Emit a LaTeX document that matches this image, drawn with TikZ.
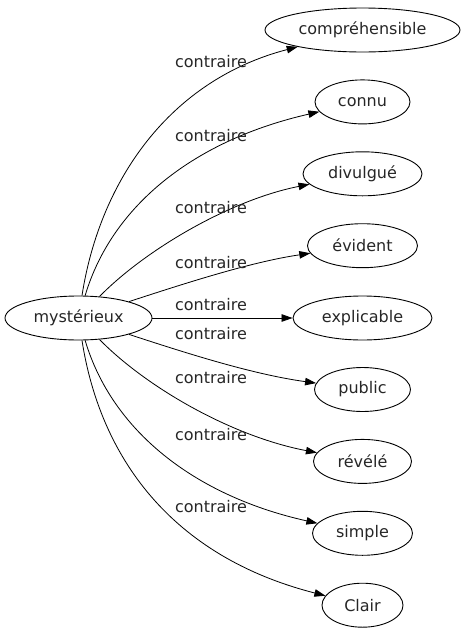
\documentclass[tikz,border=0pt]{standalone}
\usepackage{fontspec}
\setmainfont{DejaVu Sans}
\usetikzlibrary{shapes.geometric,arrows.meta}
\begin{document}
\begin{tikzpicture}[x=1pt,y=-1pt,
  term/.style={ellipse,draw,line width=0.9pt,inner sep=0pt,minimum height=44pt,text=black!85,font=\fontsize{16}{19}\selectfont},
  lbl/.style={text=black!85,font=\fontsize{16}{19}\selectfont,inner sep=0pt},
  rel/.style={draw,line width=0.8pt,-{Triangle[length=11pt,width=7.5pt]}}]
\useasboundingbox (0,0) rectangle (465,635);
\node[term,minimum width=147pt] (m) at (78.5,318) {mystérieux};
\node[term,minimum width=195pt] (n1) at (362.5,30) {compréhensible};
\node[term,minimum width=95pt]  (n2) at (362.5,101.9) {connu};
\node[term,minimum width=119pt] (n3) at (362.5,173.8) {divulgué};
\node[term,minimum width=110pt] (n4) at (362.5,245.7) {évident};
\node[term,minimum width=139pt] (n5) at (362.5,318) {explicable};
\node[term,minimum width=96pt]  (n6) at (362.5,389.5) {public};
\node[term,minimum width=98pt]  (n7) at (362.5,461.4) {révélé};
\node[term,minimum width=100pt] (n8) at (362.5,533.3) {simple};
\node[term,minimum width=81pt]  (n9) at (362.5,605.2) {Clair};
\draw[rel] (m) .. controls (100,180) and (170,80) .. (n1);
\draw[rel] (m) .. controls (112,205) and (195,140) .. (n2);
\draw[rel] (m) .. controls (145,250) and (230,200) .. (n3);
\draw[rel] (m) .. controls (180,285) and (250,262) .. (n4);
\draw[rel] (m) -- (n5);
\draw[rel] (m) .. controls (180,351) and (250,374) .. (n6);
\draw[rel] (m) .. controls (145,386) and (230,436) .. (n7);
\draw[rel] (m) .. controls (112,431) and (195,496) .. (n8);
\draw[rel] (m) .. controls (100,456) and (170,556) .. (n9);
\node[lbl] (l1) at (211,62) {contraire};
\node[lbl] (l2) at (211,136) {contraire};
\node[lbl] (l3) at (211,208) {contraire};
\node[lbl] (l4) at (211,263) {contraire};
\node[lbl] (l5) at (211,305) {contraire};
\node[lbl] (l6) at (211,334) {contraire};
\node[lbl] (l7) at (211,378) {contraire};
\node[lbl] (l8) at (211,435) {contraire};
\node[lbl] (l9) at (211,507) {contraire};
\end{tikzpicture}
\end{document}
